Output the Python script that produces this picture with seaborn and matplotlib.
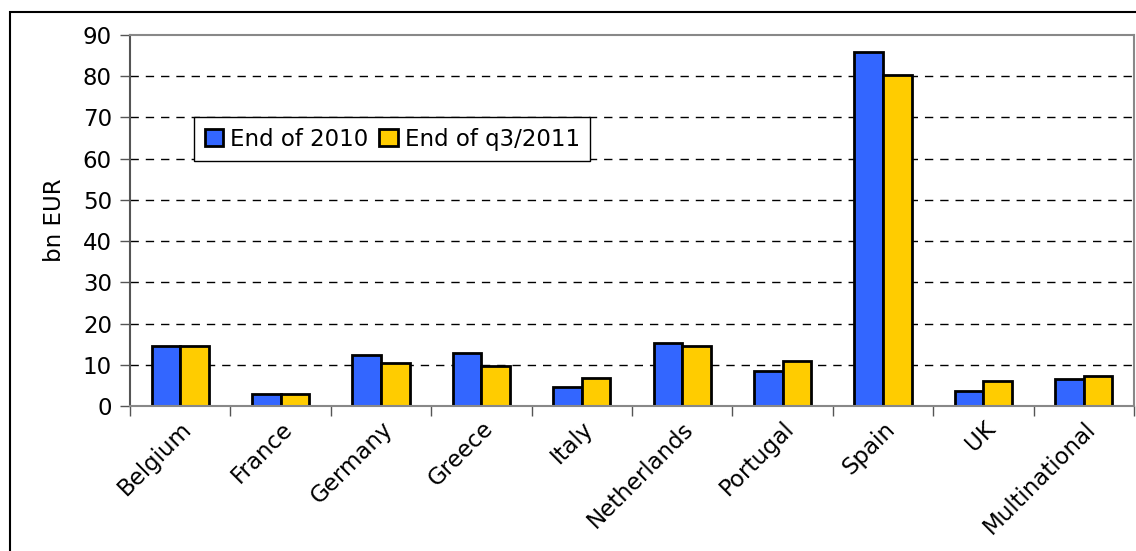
import numpy as np
import pandas as pd
import matplotlib
matplotlib.use("Agg")
import matplotlib.pyplot as plt
from matplotlib.patches import Rectangle
import seaborn as sns

countries = ["Belgium", "France", "Germany", "Greece", "Italy",
             "Netherlands", "Portugal", "Spain", "UK", "Multinational"]
end_2010 = [14.6, 2.8, 12.3, 12.8, 4.6, 15.2, 8.6, 85.8, 3.7, 6.5]
end_q3_2011 = [14.6, 2.8, 10.4, 9.8, 6.7, 14.6, 10.8, 80.2, 6.0, 7.2]
series = ["End of 2010", "End of q3/2011"]
colors = ["#3366FF", "#FFCC00"]
y_ticks = list(range(0, 91, 10))

df = pd.DataFrame({
    "country": countries * 2,
    "value": end_2010 + end_q3_2011,
    "series": [series[0]] * len(countries) + [series[1]] * len(countries),
})

sns.set_style("white")
plt.rcParams["font.family"] = ["DejaVu Sans"]
plt.rcParams["text.color"] = "black"
plt.rcParams["axes.labelcolor"] = "black"
plt.rcParams["xtick.labelcolor"] = "black"
plt.rcParams["ytick.labelcolor"] = "black"

fig = plt.figure(figsize=(11.36, 5.51), dpi=100)
ax = fig.add_axes([130 / 1136, 1 - 406 / 551, 1004 / 1136, 371 / 551])

sns.barplot(data=df, x="country", y="value", hue="series", order=countries,
            hue_order=series, palette=colors, edgecolor="black", linewidth=2,
            width=0.57, gap=0, saturation=1, ax=ax)

ax.set_ylim(0, 90)
ax.set_xlim(-0.5, len(countries) - 0.5)
ax.set_yticks(y_ticks)
ax.tick_params(axis="y", labelsize=16.5, length=7, width=1, color="#555555",
               direction="out", left=True, pad=6)
ax.set_xticks(range(len(countries)))
ax.set_xticklabels(countries, rotation=45, ha="right", rotation_mode="anchor", fontsize=16.5)
ax.tick_params(axis="x", which="major", length=0, pad=8)
ax.set_xticks(np.arange(-0.5, len(countries), 1), minor=True)
ax.tick_params(axis="x", which="minor", length=7, width=1, color="#555555",
               direction="out", bottom=True)

for y in y_ticks[1:-1]:
    ax.axhline(y, color="black", lw=1, ls=(0, (6, 5)), zorder=0)

for side in ["left", "bottom", "right", "top"]:
    ax.spines[side].set_visible(True)
    ax.spines[side].set_color("#888888")
    ax.spines[side].set_linewidth(1.5)
ax.spines["left"].set_color("#555555")

ax.set_xlabel("")
ax.set_ylabel("bn EUR", fontsize=16.5, labelpad=12)

leg = ax.legend(loc="upper left", bbox_to_anchor=(0.064, 0.778), ncol=2, fontsize=16.5,
                frameon=True, fancybox=False, edgecolor="black", framealpha=1,
                handlelength=0.8, handleheight=0.8, handletextpad=0.3,
                columnspacing=0.5, borderpad=0.45, borderaxespad=0)
leg.get_frame().set_linewidth(1)

fig.patches.append(Rectangle((10 / 1136, -0.02), 1.0, 1 - 12 / 551 + 0.02,
                             transform=fig.transFigure, fill=False,
                             edgecolor="black", lw=1.5))

fig.savefig("out.png", dpi=100)
